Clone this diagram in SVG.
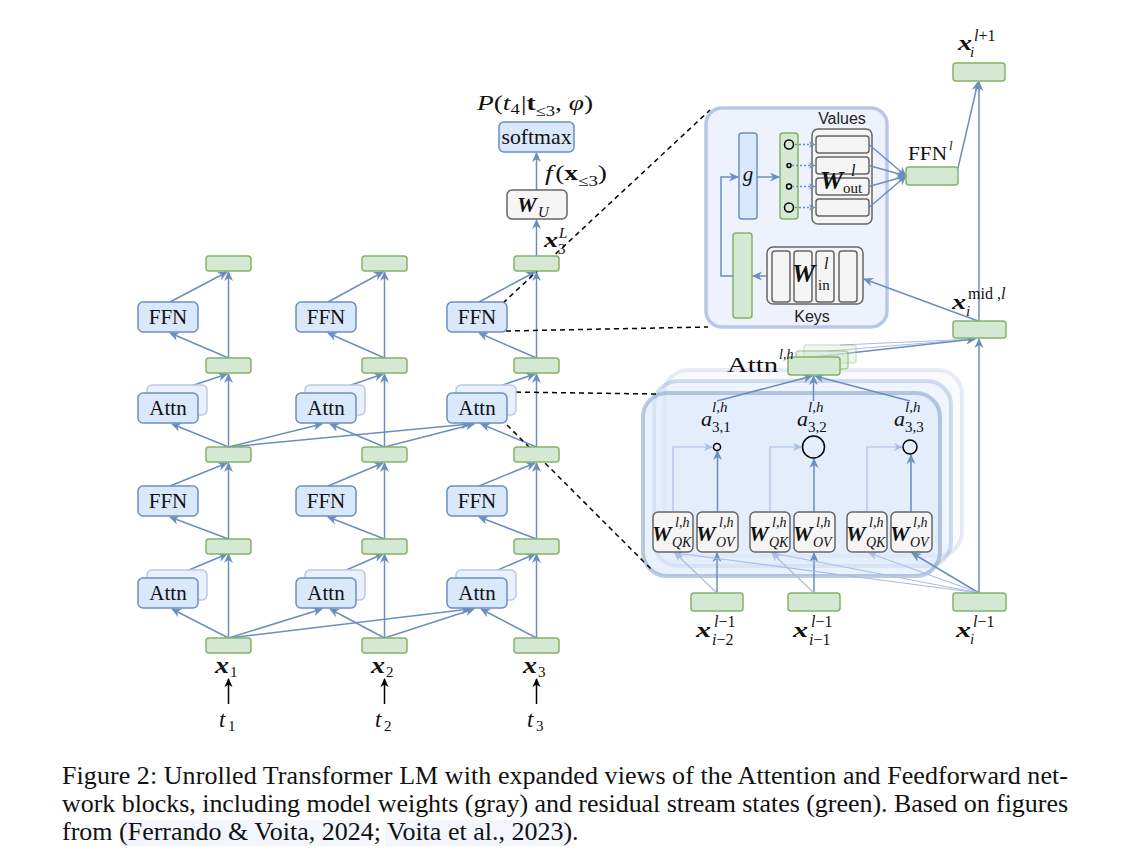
<svg xmlns="http://www.w3.org/2000/svg" width="1130" height="860" viewBox="0 0 1130 860">
<defs>
<style>
.m{font-family:"Liberation Serif","DejaVu Serif",serif;fill:#111}
.s{font-family:"Liberation Sans","DejaVu Sans",sans-serif;fill:#222}
.bi{font-weight:bold;font-style:italic}
.it{font-style:italic}
.g{fill:#d5e8d4;stroke:#82b366;stroke-width:1.5}
.b{fill:#dae8fc;stroke:#6c8ebf;stroke-width:1.5}
.bs{fill:#eaf1fd;stroke:#b9c9e6;stroke-width:1.5}
.w{fill:#f5f5f5;stroke:#666;stroke-width:1.5}
.e{stroke:#6c8ebf;stroke-width:1.5;fill:none;marker-end:url(#ab)}
.el{stroke:#aabde4;stroke-width:1.2;fill:none;marker-end:url(#al)}
.ed{stroke:#6c8ebf;stroke-width:1.3;stroke-dasharray:2 2;fill:none;marker-end:url(#as)}
.k{stroke:#000;stroke-width:1.5;fill:none;marker-end:url(#ak)}
.d{stroke:#000;stroke-width:1.5;stroke-dasharray:5 4;fill:none}
.c{fill:none;stroke:#000;stroke-width:1.5}
</style>
<marker id="ab" viewBox="0 0 10 10" refX="9" refY="5" markerWidth="10" markerHeight="10" markerUnits="userSpaceOnUse" orient="auto"><path d="M0,0.5 L10,5 L0,9.5 L3,5 z" fill="#6c8ebf"/></marker>
<marker id="al" viewBox="0 0 10 10" refX="9" refY="5" markerWidth="9" markerHeight="9" markerUnits="userSpaceOnUse" orient="auto"><path d="M0,0.5 L10,5 L0,9.5 L3,5 z" fill="#aabde4"/></marker>
<marker id="as" viewBox="0 0 10 10" refX="9" refY="5" markerWidth="7" markerHeight="7" markerUnits="userSpaceOnUse" orient="auto"><path d="M0,0.5 L10,5 L0,9.5 L3,5 z" fill="#6c8ebf"/></marker>
<marker id="ak" viewBox="0 0 10 10" refX="9" refY="5" markerWidth="9" markerHeight="9" markerUnits="userSpaceOnUse" orient="auto"><path d="M0,0.5 L10,5 L0,9.5 L3,5 z" fill="#000"/></marker>
</defs>
<rect width="1130" height="860" fill="#fff"/>

<!-- expanded FFN background -->
<g id="ffn-expanded">
<rect x="706" y="108" width="181" height="219" rx="16" fill="#edf2fc" stroke="#b8c7e8" stroke-width="3.5"/>
<text class="s" x="842" y="124" font-size="16" text-anchor="middle">Values</text>
<text class="s" x="812" y="322" font-size="16" text-anchor="middle">Keys</text>
</g>
<g id="ffn-g"><rect class="b" x="739" y="133" width="18" height="86" rx="3"/><text class="m it" x="748" y="181" font-size="21" text-anchor="middle">g</text></g>
<g id="ffn-act"><rect class="g" x="780" y="133" width="18" height="86" rx="3"/>
<circle class="c" cx="789" cy="144.5" r="4.5"/><circle class="c" cx="789" cy="165.5" r="2"/><circle class="c" cx="789" cy="186.5" r="2.5"/><circle class="c" cx="789" cy="207.5" r="4.5"/></g>
<g id="ffn-values"><rect class="w" x="812" y="129" width="60" height="95" rx="6"/>
<rect class="w" x="816" y="136" width="53" height="17" rx="3"/><rect class="w" x="816" y="157" width="53" height="17" rx="3"/><rect class="w" x="816" y="178" width="53" height="17" rx="3"/><rect class="w" x="816" y="199" width="53" height="17" rx="3"/>
<text class="m bi" x="820" y="189" font-size="26">W</text><text class="m it" x="851" y="176" font-size="16">l</text><text class="m" x="843" y="193" font-size="15">out</text></g>
<g id="ffn-keyact"><rect class="g" x="733" y="233" width="19" height="85" rx="3"/></g>
<g id="ffn-keys"><rect class="w" x="767" y="247" width="96" height="57" rx="6"/>
<rect class="w" x="772" y="251" width="18" height="51" rx="3"/><rect class="w" x="794" y="251" width="18" height="51" rx="3"/><rect class="w" x="816" y="251" width="18" height="51" rx="3"/><rect class="w" x="839" y="251" width="18" height="51" rx="3"/>
<text class="m bi" x="792" y="282" font-size="26">W</text><text class="m it" x="824" y="269" font-size="16">l</text><text class="m" x="818" y="290" font-size="15">in</text></g>

<!-- expanded attention background -->
<g id="attn-expanded">
<rect x="664" y="370" width="298" height="186" rx="24" fill="#dae8fc" fill-opacity="0.2" stroke="#6c8ebf" stroke-opacity="0.15" stroke-width="4"/>
<rect x="654" y="381" width="297" height="185" rx="24" fill="#dae8fc" fill-opacity="0.3" stroke="#6c8ebf" stroke-opacity="0.28" stroke-width="4"/>
<rect x="643" y="393" width="297" height="183" rx="24" fill="#dae8fc" fill-opacity="0.6" stroke="#6c8ebf" stroke-opacity="0.45" stroke-width="4"/>
</g>

<g id="connectors">
<!-- column 1 -->
<line class="e" x1="228.5" y1="638" x2="228.5" y2="554"/>
<line class="e" x1="228.5" y1="539" x2="228.5" y2="463"/>
<line class="e" x1="228.5" y1="447" x2="228.5" y2="374"/>
<line class="e" x1="228.5" y1="358" x2="228.5" y2="272"/>
<line class="e" x1="170" y1="578" x2="227" y2="554"/>
<line class="e" x1="228.5" y1="539" x2="170" y2="517"/>
<line class="e" x1="170" y1="486" x2="227" y2="463"/>
<line class="e" x1="170" y1="393" x2="227" y2="374"/>
<line class="e" x1="228.5" y1="358" x2="170" y2="333"/>
<line class="e" x1="170" y1="302" x2="227" y2="272"/>
<line class="e" x1="228.5" y1="638" x2="172" y2="609"/>
<line class="e" x1="228.5" y1="638" x2="322" y2="609"/>
<line class="e" x1="228.5" y1="638" x2="470" y2="609"/>
<line class="e" x1="228.5" y1="447" x2="172" y2="424"/>
<line class="e" x1="228.5" y1="447" x2="322" y2="424"/>
<line class="e" x1="228.5" y1="447" x2="470" y2="424"/>
<!-- column 2 -->
<line class="e" x1="384.5" y1="638" x2="384.5" y2="554"/>
<line class="e" x1="384.5" y1="539" x2="384.5" y2="463"/>
<line class="e" x1="384.5" y1="447" x2="384.5" y2="374"/>
<line class="e" x1="384.5" y1="358" x2="384.5" y2="272"/>
<line class="e" x1="328" y1="578" x2="383" y2="554"/>
<line class="e" x1="384.5" y1="539" x2="328" y2="517"/>
<line class="e" x1="328" y1="486" x2="383" y2="463"/>
<line class="e" x1="328" y1="393" x2="383" y2="374"/>
<line class="e" x1="384.5" y1="358" x2="328" y2="333"/>
<line class="e" x1="328" y1="302" x2="383" y2="272"/>
<line class="e" x1="384.5" y1="638" x2="330" y2="609"/>
<line class="e" x1="384.5" y1="638" x2="474" y2="609"/>
<line class="e" x1="384.5" y1="447" x2="330" y2="424"/>
<line class="e" x1="384.5" y1="447" x2="474" y2="424"/>
<!-- column 3 -->
<line class="e" x1="536.5" y1="638" x2="536.5" y2="554"/>
<line class="e" x1="536.5" y1="539" x2="536.5" y2="463"/>
<line class="e" x1="536.5" y1="447" x2="536.5" y2="374"/>
<line class="e" x1="536.5" y1="358" x2="536.5" y2="272"/>
<line class="e" x1="479" y1="578" x2="535" y2="554"/>
<line class="e" x1="536.5" y1="539" x2="479" y2="517"/>
<line class="e" x1="479" y1="486" x2="535" y2="463"/>
<line class="e" x1="479" y1="393" x2="535" y2="374"/>
<line class="e" x1="536.5" y1="358" x2="479" y2="333"/>
<line class="e" x1="479" y1="302" x2="535" y2="272"/>
<line class="e" x1="536.5" y1="638" x2="481" y2="609"/>
<line class="e" x1="536.5" y1="447" x2="481" y2="424"/>
<line class="e" x1="536.5" y1="256" x2="536.5" y2="220"/>
<line class="e" x1="536.5" y1="190" x2="536.5" y2="153"/>
<!-- token inputs -->
<line class="k" x1="228.5" y1="704" x2="228.5" y2="679"/>
<line class="k" x1="384.5" y1="704" x2="384.5" y2="679"/>
<line class="k" x1="536.5" y1="704" x2="536.5" y2="679"/>
<!-- FFN expanded -->
<line class="e" x1="757" y1="177" x2="779" y2="177"/>
<line class="ed" x1="795" y1="144.5" x2="815" y2="144.5"/>
<line class="ed" x1="792" y1="165.5" x2="815" y2="165.5"/>
<line class="ed" x1="792" y1="186.5" x2="815" y2="186.5"/>
<line class="ed" x1="795" y1="207.5" x2="815" y2="207.5"/>
<line class="e" x1="869" y1="144.5" x2="906" y2="176"/>
<line class="e" x1="869" y1="165.5" x2="906" y2="176"/>
<line class="e" x1="869" y1="186.5" x2="906" y2="176"/>
<line class="e" x1="869" y1="207.5" x2="906" y2="176"/>
<line class="e" x1="767" y1="276" x2="753" y2="276"/>
<path class="e" d="M733,276 H721 V177 H738"/>
<line class="e" x1="978" y1="321" x2="864" y2="279"/>
<line class="e" x1="958" y1="168" x2="978" y2="82"/>
<line class="e" x1="979" y1="321" x2="979" y2="82"/>
<line class="e" x1="979" y1="593" x2="979" y2="339"/>
<!-- attention expanded -->
<line class="el" x1="840" y1="345" x2="975" y2="339"/>
<line class="el" x1="828" y1="351" x2="975" y2="339"/>
<line class="e" x1="814" y1="357" x2="975" y2="339"/>
<line class="e" x1="717" y1="401" x2="812" y2="376"/>
<line class="e" x1="813.5" y1="401" x2="813.5" y2="376"/>
<line class="e" x1="910" y1="401" x2="815" y2="376"/>
<line class="e" x1="717.5" y1="512" x2="717.5" y2="451"/>
<line class="e" x1="814" y1="512" x2="814" y2="459"/>
<line class="e" x1="911" y1="512" x2="911" y2="455"/>
<path class="el" d="M673,512 V447 H712"/>
<path class="el" d="M770,512 V447 H801"/>
<path class="el" d="M867,512 V447 H902"/>
<line class="e" x1="717" y1="593" x2="717" y2="553"/>
<line class="el" x1="717" y1="593" x2="675" y2="553"/>
<line class="e" x1="814" y1="593" x2="814" y2="553"/>
<line class="el" x1="814" y1="593" x2="772" y2="553"/>
<line class="e" x1="979" y1="593" x2="912" y2="553"/>
<line class="el" x1="979" y1="593" x2="869" y2="553"/>
<line class="el" x1="979" y1="593" x2="772" y2="553"/>
<line class="el" x1="979" y1="593" x2="675" y2="553"/>
<!-- dashed zoom guides -->
<line class="d" x1="503" y1="303" x2="710" y2="110"/>
<line class="d" x1="506" y1="331" x2="708" y2="327"/>
<line class="d" x1="507" y1="392" x2="657" y2="394"/>
<line class="d" x1="507" y1="425" x2="653" y2="571"/>
</g>

<!-- column 1 nodes -->
<g id="c1-x"><rect class="g" x="206" y="638" width="45" height="15" rx="3"/></g>
<g id="c1-attn1"><rect class="bs" x="147" y="570" width="60" height="30" rx="5"/><rect class="b" x="138" y="578" width="60" height="30" rx="5"/><text class="m" x="168" y="600" font-size="21" text-anchor="middle">Attn</text></g>
<g id="c1-h1"><rect class="g" x="206" y="539" width="45" height="15" rx="3"/></g>
<g id="c1-ffn1"><rect class="b" x="138" y="486" width="60" height="30" rx="5"/><text class="m" x="168" y="508" font-size="21" text-anchor="middle">FFN</text></g>
<g id="c1-h2"><rect class="g" x="206" y="447" width="45" height="15" rx="3"/></g>
<g id="c1-attn2"><rect class="bs" x="147" y="385" width="60" height="30" rx="5"/><rect class="b" x="138" y="393" width="60" height="30" rx="5"/><text class="m" x="168" y="415" font-size="21" text-anchor="middle">Attn</text></g>
<g id="c1-h3"><rect class="g" x="206" y="358" width="45" height="15" rx="3"/></g>
<g id="c1-ffn2"><rect class="b" x="138" y="302" width="60" height="30" rx="5"/><text class="m" x="168" y="324" font-size="21" text-anchor="middle">FFN</text></g>
<g id="c1-h4"><rect class="g" x="206" y="256" width="45" height="15" rx="3"/></g>
<!-- column 2 nodes -->
<g id="c2-x"><rect class="g" x="362" y="638" width="45" height="15" rx="3"/></g>
<g id="c2-attn1"><rect class="bs" x="305" y="570" width="60" height="30" rx="5"/><rect class="b" x="296" y="578" width="60" height="30" rx="5"/><text class="m" x="326" y="600" font-size="21" text-anchor="middle">Attn</text></g>
<g id="c2-h1"><rect class="g" x="362" y="539" width="45" height="15" rx="3"/></g>
<g id="c2-ffn1"><rect class="b" x="296" y="486" width="60" height="30" rx="5"/><text class="m" x="326" y="508" font-size="21" text-anchor="middle">FFN</text></g>
<g id="c2-h2"><rect class="g" x="362" y="447" width="45" height="15" rx="3"/></g>
<g id="c2-attn2"><rect class="bs" x="305" y="385" width="60" height="30" rx="5"/><rect class="b" x="296" y="393" width="60" height="30" rx="5"/><text class="m" x="326" y="415" font-size="21" text-anchor="middle">Attn</text></g>
<g id="c2-h3"><rect class="g" x="362" y="358" width="45" height="15" rx="3"/></g>
<g id="c2-ffn2"><rect class="b" x="296" y="302" width="60" height="30" rx="5"/><text class="m" x="326" y="324" font-size="21" text-anchor="middle">FFN</text></g>
<g id="c2-h4"><rect class="g" x="362" y="256" width="45" height="15" rx="3"/></g>
<!-- column 3 nodes -->
<g id="c3-x"><rect class="g" x="514" y="638" width="45" height="15" rx="3"/></g>
<g id="c3-attn1"><rect class="bs" x="456" y="570" width="60" height="30" rx="5"/><rect class="b" x="447" y="578" width="60" height="30" rx="5"/><text class="m" x="477" y="600" font-size="21" text-anchor="middle">Attn</text></g>
<g id="c3-h1"><rect class="g" x="514" y="539" width="45" height="15" rx="3"/></g>
<g id="c3-ffn1"><rect class="b" x="447" y="486" width="60" height="30" rx="5"/><text class="m" x="477" y="508" font-size="21" text-anchor="middle">FFN</text></g>
<g id="c3-h2"><rect class="g" x="514" y="447" width="45" height="15" rx="3"/></g>
<g id="c3-attn2"><rect class="bs" x="456" y="385" width="60" height="30" rx="5"/><rect class="b" x="447" y="393" width="60" height="30" rx="5"/><text class="m" x="477" y="415" font-size="21" text-anchor="middle">Attn</text></g>
<g id="c3-h3"><rect class="g" x="514" y="358" width="45" height="15" rx="3"/></g>
<g id="c3-ffn2"><rect class="b" x="447" y="302" width="60" height="30" rx="5"/><text class="m" x="477" y="324" font-size="21" text-anchor="middle">FFN</text></g>
<g id="c3-h4"><rect class="g" x="514" y="256" width="45" height="15" rx="3"/>
<text class="m bi" x="544" y="247" font-size="22" textLength="14" lengthAdjust="spacingAndGlyphs">x</text><text class="m it" x="559" y="238" font-size="15">L</text><text class="m" x="558" y="254" font-size="15">3</text></g>
<g id="unembed"><rect class="w" x="507" y="190" width="60" height="29" rx="5"/>
<text class="m bi" x="517" y="212" font-size="22">W</text><text class="m it" x="538" y="217" font-size="15">U</text>
<text class="m" x="545" y="180" font-size="22" textLength="62" lengthAdjust="spacingAndGlyphs"><tspan class="it">f</tspan><tspan y="180" dx="2">(</tspan><tspan font-weight="bold">x</tspan><tspan font-size="15" y="186">≤3</tspan><tspan y="180">)</tspan></text></g>
<g id="softmax"><rect class="b" x="499" y="122" width="75" height="30" rx="5"/>
<text class="m" x="536.5" y="144" font-size="21" text-anchor="middle" textLength="70" lengthAdjust="spacingAndGlyphs">softmax</text>
<text class="m" x="477" y="110" font-size="22" textLength="116" lengthAdjust="spacingAndGlyphs"><tspan class="it">P</tspan><tspan y="110">(</tspan><tspan class="it">t</tspan><tspan font-size="15" y="114">4</tspan><tspan y="110" dx="1">|</tspan><tspan font-weight="bold">t</tspan><tspan font-size="15" y="116">≤3</tspan><tspan y="110">, </tspan><tspan class="it">φ</tspan><tspan y="110">)</tspan></text></g>

<!-- token labels -->
<g id="tok1"><text class="m bi" x="215" y="673" font-size="23" textLength="14" lengthAdjust="spacingAndGlyphs">x</text><text class="m" x="230" y="677" font-size="15">1</text>
<text class="m it" x="219" y="727" font-size="23">t</text><text class="m" x="228" y="731" font-size="15">1</text></g>
<g id="tok2"><text class="m bi" x="371" y="673" font-size="23" textLength="14" lengthAdjust="spacingAndGlyphs">x</text><text class="m" x="386" y="677" font-size="15">2</text>
<text class="m it" x="375" y="727" font-size="23">t</text><text class="m" x="384" y="731" font-size="15">2</text></g>
<g id="tok3"><text class="m bi" x="523" y="673" font-size="23" textLength="14" lengthAdjust="spacingAndGlyphs">x</text><text class="m" x="538" y="677" font-size="15">3</text>
<text class="m it" x="527" y="727" font-size="23">t</text><text class="m" x="536" y="731" font-size="15">3</text></g>

<!-- right side residual states -->
<g id="ffn-out"><rect class="g" x="906" y="167" width="52" height="18" rx="3"/>
<text class="m" x="908" y="160" font-size="19" textLength="39" lengthAdjust="spacingAndGlyphs">FFN</text><text class="m it" x="949" y="150" font-size="13">l</text></g>
<g id="x-next"><rect class="g" x="953" y="63" width="52" height="18" rx="3"/>
<text class="m bi" x="958" y="50" font-size="22" textLength="14" lengthAdjust="spacingAndGlyphs">x</text><text class="m it" x="974" y="41" font-size="16">l<tspan class="m" font-style="normal">+1</tspan></text><text class="m it" x="970" y="57" font-size="15">i</text></g>
<g id="x-mid"><rect class="g" x="953" y="321" width="53" height="17" rx="3"/>
<text class="m bi" x="952" y="309" font-size="22" textLength="14" lengthAdjust="spacingAndGlyphs">x</text><text class="m" x="968" y="299" font-size="16">mid ,<tspan class="it">l</tspan></text><text class="m it" x="966" y="316" font-size="15">i</text></g>
<g id="x-prev-i"><rect class="g" x="953" y="593" width="53" height="18" rx="3"/>
<text class="m bi" x="956" y="637" font-size="22" textLength="15" lengthAdjust="spacingAndGlyphs">x</text><text class="m" x="973" y="627" font-size="16"><tspan class="it">l</tspan>−1</text><text class="m it" x="970" y="644" font-size="15">i</text></g>
<g id="x-prev-i2"><rect class="g" x="691" y="593" width="52" height="18" rx="3"/>
<text class="m bi" x="696" y="637" font-size="22" textLength="15" lengthAdjust="spacingAndGlyphs">x</text><text class="m" x="714" y="627" font-size="16"><tspan class="it">l</tspan>−1</text><text class="m" x="712" y="645" font-size="16"><tspan class="it">i</tspan>−2</text></g>
<g id="x-prev-i1"><rect class="g" x="788" y="593" width="52" height="18" rx="3"/>
<text class="m bi" x="793" y="637" font-size="22" textLength="15" lengthAdjust="spacingAndGlyphs">x</text><text class="m" x="811" y="627" font-size="16"><tspan class="it">l</tspan>−1</text><text class="m" x="809" y="645" font-size="16"><tspan class="it">i</tspan>−1</text></g>

<!-- attention head output -->
<g id="attn-out">
<rect class="g" x="804" y="345" width="52" height="18" rx="3" opacity="0.35"/>
<rect class="g" x="796" y="351" width="52" height="18" rx="3" opacity="0.6"/>
<rect class="g" x="788" y="357" width="52" height="18" rx="3"/>
<text class="m" x="727" y="372" font-size="21" textLength="51" lengthAdjust="spacingAndGlyphs">Attn</text><text class="m it" x="779" y="359" font-size="14">l,h</text></g>

<g id="a31"><circle class="c" cx="717" cy="447" r="3.5"/>
<text class="m it" x="701" y="426" font-size="22">a</text><text class="m it" x="712" y="412" font-size="15">l,h</text><text class="m" x="712" y="432" font-size="15">3,1</text></g>
<g id="a32"><circle class="c" cx="813.5" cy="447" r="11"/>
<text class="m it" x="797" y="426" font-size="22">a</text><text class="m it" x="808" y="412" font-size="15">l,h</text><text class="m" x="808" y="432" font-size="15">3,2</text></g>
<g id="a33"><circle class="c" cx="910" cy="447" r="7"/>
<text class="m it" x="894" y="426" font-size="22">a</text><text class="m it" x="905" y="412" font-size="15">l,h</text><text class="m" x="905" y="432" font-size="15">3,3</text></g>

<g id="wqk1"><rect class="w" x="653" y="512" width="40" height="40" rx="5"/><text class="m bi" x="652" y="541" font-size="22">W</text><text class="m it" x="675" y="527" font-size="14">l,h</text><text class="m it" x="672" y="547" font-size="14">QK</text></g>
<g id="wov1"><rect class="w" x="697" y="512" width="41" height="40" rx="5"/><text class="m bi" x="696" y="541" font-size="22">W</text><text class="m it" x="719" y="527" font-size="14">l,h</text><text class="m it" x="716" y="547" font-size="14">OV</text></g>
<g id="wqk2"><rect class="w" x="750" y="512" width="40" height="40" rx="5"/><text class="m bi" x="749" y="541" font-size="22">W</text><text class="m it" x="772" y="527" font-size="14">l,h</text><text class="m it" x="769" y="547" font-size="14">QK</text></g>
<g id="wov2"><rect class="w" x="794" y="512" width="41" height="40" rx="5"/><text class="m bi" x="793" y="541" font-size="22">W</text><text class="m it" x="816" y="527" font-size="14">l,h</text><text class="m it" x="813" y="547" font-size="14">OV</text></g>
<g id="wqk3"><rect class="w" x="847" y="512" width="40" height="40" rx="5"/><text class="m bi" x="846" y="541" font-size="22">W</text><text class="m it" x="869" y="527" font-size="14">l,h</text><text class="m it" x="866" y="547" font-size="14">QK</text></g>
<g id="wov3"><rect class="w" x="891" y="512" width="41" height="40" rx="5"/><text class="m bi" x="890" y="541" font-size="22">W</text><text class="m it" x="913" y="527" font-size="14">l,h</text><text class="m it" x="910" y="547" font-size="14">OV</text></g>

<!-- caption -->
<g id="caption">
<rect x="121" y="820" width="250" height="26" fill="#f3f6fe"/>
<rect x="385" y="820" width="183" height="26" fill="#f3f6fe"/>
<text class="m" x="62" y="784" font-size="26" textLength="1006" lengthAdjust="spacing">Figure 2: Unrolled Transformer LM with expanded views of the Attention and Feedforward net-</text>
<text class="m" x="62" y="812" font-size="26" textLength="1006" lengthAdjust="spacing">work blocks, including model weights (gray) and residual stream states (green). Based on figures</text>
<text class="m" x="62" y="840" font-size="26">from (Ferrando &amp; Voita, 2024; Voita et al., 2023).</text>
</g>
</svg>
